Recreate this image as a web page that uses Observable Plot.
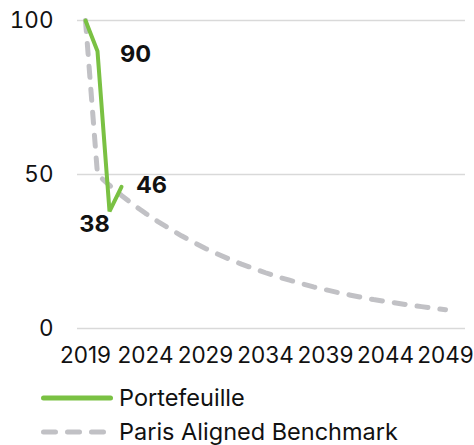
<!DOCTYPE html>
<html><head><meta charset="utf-8">
<script src="https://cdn.jsdelivr.net/npm/d3@7"></script>
<script src="https://cdn.jsdelivr.net/npm/@observablehq/plot@0.6"></script>
<style>
body{margin:0;background:#fff;font-family:Inter,"Liberation Sans",sans-serif;}
#legend{padding-top:6px;padding-left:41px;}
.row{display:flex;align-items:center;height:34px;font-size:23.5px;line-height:1;color:#111;}
.row svg{margin-right:6px;flex:none;}
</style></head><body>
<div id="chart"></div>
<div id="legend"></div>
<script>
const years = [2019,2020,2021,2022,2023,2024,2025,2026,2027,2028,2029,2030,2031,2032,2033,2034,2035,2036,2037,2038,2039,2040,2041,2042,2043,2044,2045,2046,2047,2048,2049,2050];
const xTicks = [2019,2024,2029,2034,2039,2044,2049];
const yTicks = [0,50,100];
const portfolioYears = [2019,2020,2021,2022];
const portfolioValues = [100,90,38,46];
const benchmarkYears = [2019,2020,2021,2022,2023,2024,2025,2026,2027,2028,2029,2030,2031,2032,2033,2034,2035,2036,2037,2038,2039,2040,2041,2042,2043,2044,2045,2046,2047,2048,2049];
const benchmarkValues = [100,50,46.5,43.2,40.2,37.4,34.8,32.4,30.1,28.0,26.0,24.2,22.5,20.9,19.5,18.1,16.8,15.7,14.6,13.5,12.6,11.7,10.9,10.1,9.4,8.8,8.2,7.6,7.1,6.6,6.1];
const seriesNames = ["Portefeuille","Paris Aligned Benchmark"];

const green = "#7ac143";
const grey = "#c1c1c5";

const portfolio = portfolioYears.map((y,i)=>({year:y,value:portfolioValues[i]}));
const benchmark = benchmarkYears.map((y,i)=>({year:y,value:benchmarkValues[i]}));

const chart = Plot.plot({
  width:474, height:375,
  marginLeft:77, marginRight:9, marginTop:20, marginBottom:47,
  style:{fontFamily:'Inter,"Liberation Sans",sans-serif', fontSize:"22.5px", color:"#111", background:"#fff", display:"block"},
  x:{type:"point", domain:years, padding:0.5, ticks:xTicks, tickSize:0, tickPadding:19, label:null, tickFormat:d=>String(d)},
  y:{domain:[0,100], ticks:yTicks, tickSize:0, tickPadding:24, label:null},
  marks:[
    Plot.ruleY(yTicks,{stroke:"#d9d9d9", strokeWidth:1.5}),
    Plot.line(benchmark,{x:"year",y:"value",stroke:grey,strokeWidth:5,strokeDasharray:"11,12",strokeLinecap:"round"}),
    Plot.line(portfolio,{x:"year",y:"value",stroke:green,strokeWidth:4,strokeLinejoin:"miter"}),
    Plot.text(portfolio.filter(d=>d.year===2020),{x:"year",y:"value",text:d=>String(d.value),dx:38,dy:3,fontWeight:"bold",fontSize:23.5,fill:"#111"}),
    Plot.text(portfolio.filter(d=>d.year===2021),{x:"year",y:"value",text:d=>String(d.value),dx:-15,dy:13,fontWeight:"bold",fontSize:23.5,fill:"#111"}),
    Plot.text(portfolio.filter(d=>d.year===2022),{x:"year",y:"value",text:d=>String(d.value),dx:30,dy:-1,fontWeight:"bold",fontSize:23.5,fill:"#111"})
  ]
});
document.getElementById("chart").appendChild(chart);

const legend = document.getElementById("legend");
legend.innerHTML = `
<div class="row"><svg width="72" height="10"><line x1="2.5" x2="69.5" y1="5" y2="5" stroke="${green}" stroke-width="5" stroke-linecap="round"/></svg><span>${seriesNames[0]}</span></div>
<div class="row"><svg width="72" height="10"><line x1="2.5" x2="62.5" y1="5" y2="5" stroke="${grey}" stroke-width="5" stroke-linecap="round" stroke-dasharray="12,12"/></svg><span>${seriesNames[1]}</span></div>`;
</script>
</body></html>
